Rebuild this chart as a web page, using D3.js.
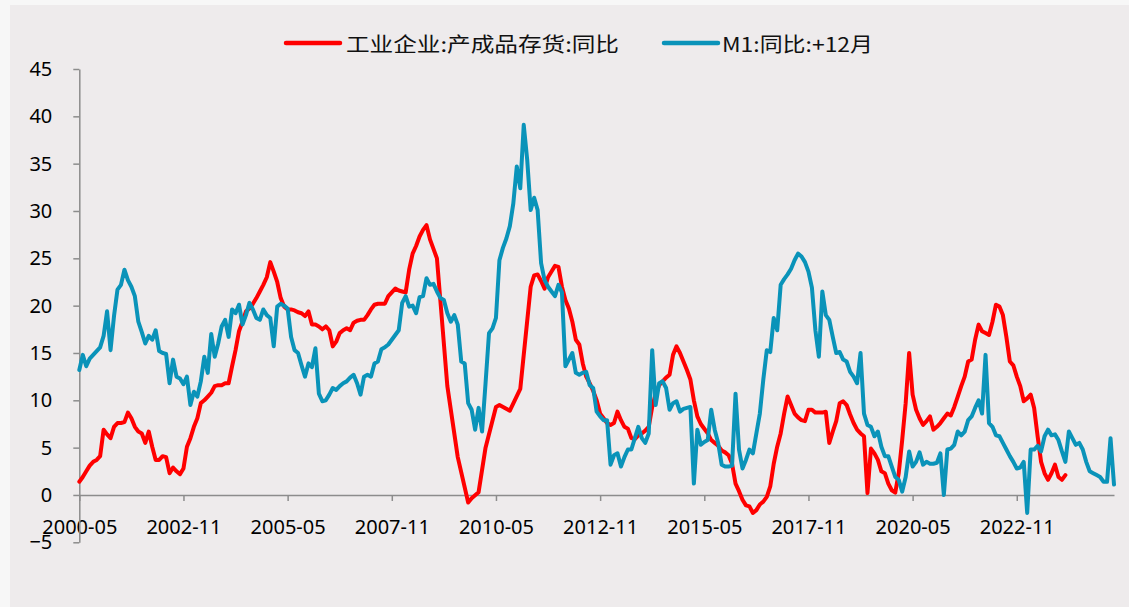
<!DOCTYPE html>
<html>
<head>
<meta charset="utf-8">
<script src="https://cdn.jsdelivr.net/npm/d3@7"></script>
<style>
  html, body { margin: 0; padding: 0; background: #f7f7f7; }
  svg { display: block; }
</style>
</head>
<body>
<div id="chart"></div>
<script>
// series names (legend)
const seriesNames = ["工业企业:产成品存货:同比", "M1:同比:+12月"];
const firstMonth = "2000-05";
const xTickLabels = ["2000-05", "2002-11", "2005-05", "2007-11", "2010-05",
  "2012-11", "2015-05", "2017-11", "2020-05", "2022-11"];
const yTicks = [-5, 0, 5, 10, 15, 20, 25, 30, 35, 40, 45];

// 工业企业:产成品存货:同比, monthly from 2000-05 (null = no value that month)
const inventoryYoY = [
  1.4, 1.9, 2.5, 3.1, 3.5, 3.7, 4.1, 6.9, 6.4, 6.0,
  7.2, 7.6, 7.6, 7.7, 8.7, 8.1, 7.2, 6.7, 6.5, 5.5,
  6.7, 5.1, 3.7, 3.7, 4.1, 4.0, 2.3, 2.9, 2.5, 2.2,
  2.8, 5.1, 6.0, 7.2, 8.1, 9.7, 10.0, 10.4, 10.8, 11.5,
  11.6, 11.6, 11.8, 11.8, 13.6, 15.3, 17.3, 18.3, 19.4, 19.7,
  20.2, 20.8, 21.5, 22.2, 23.0, 24.6, 23.6, 22.5, 20.8, 19.9,
  19.6, 19.6, 19.5, 19.3, 19.2, 18.9, 19.4, 18.0, 18.0, 17.8,
  17.5, 17.8, 17.4, 15.7, 16.2, 17.1, 17.4, 17.6, 17.4, 18.2,
  18.4, 18.5, 18.5, 19.0, 19.6, 20.1, 20.2, 20.2, 20.2, 21.0,
  21.4, 21.8, 21.6, 21.5, 21.4, 23.8, 25.5, 26.3, 27.3, 28.0,
  28.5, 27.0, 26.0, 25.0, null, null, 11.5, null, null, 4.0,
  null, null, -0.8, -0.35, null, 0.3, null, 5.0, null, null,
  9.3, 9.5, null, null, 8.9, null, null, 11.2, null, null,
  22.0, 23.2, 23.3, 22.6, 21.8, 23.0, 23.6, 24.2, 24.1, 22.0,
  20.6, 19.7, 18.3, 16.4, 15.9, 13.9, 12.5, 11.8, 11.0, 10.0,
  8.6, 8.1, 7.6, 7.4, 7.6, 8.8, 7.9, 7.2, 7.0, 6.0,
  5.9, 6.3, 6.5, 6.8, 7.2, 9.3, 10.7, 11.6, 12.0, 12.4,
  12.7, 14.8, 15.7, 15.0, 14.1, 13.2, 12.2, 10.0, 8.3, 7.5,
  7.0, 6.5, 5.8, 5.5, 5.2, 4.7, 4.5, 4.2, 3.3, 1.2,
  0.4, -0.5, -1.1, -1.2, -1.9, -1.6, -1.0, -0.7, -0.2, 0.9,
  3.3, 5.1, 6.5, 8.6, 10.4, 9.5, 8.6, 8.2, 7.9, 7.8,
  9.0, 9.0, 8.7, 8.7, 8.7, 8.8, 5.5, 6.7, 7.8, 9.7,
  9.9, 9.5, 8.5, 7.6, 6.9, 6.5, 6.2, 0.2, 4.9, 4.4,
  3.7, 2.5, 2.3, 1.2, 0.5, 0.25, 2.3, 5.8, 9.7, 15.0,
  10.6, 9.0, 8.1, 7.4, 7.8, 8.3, 6.9, 7.2, 7.6, 8.1,
  8.6, 8.4, 9.3, 10.4, 11.5, 12.5, 14.1, 14.3, 16.4, 18.0,
  17.3, 17.1, 16.9, 18.3, 20.1, 19.9, 19.0, 16.7, 14.1, 13.7,
  12.5, 11.5, 9.9, 10.2, 10.6, 9.2, 6.2, 3.5, 2.3, 1.6,
  2.3, 3.2, 1.9, 1.6, 2.1
];

// M1:同比, shifted +12 months, monthly from 2000-05
const m1YoYLead12 = [
  13.2, 14.8, 13.6, 14.4, 14.8, 15.2, 15.6, 16.8, 19.4, 15.3,
  18.9, 21.7, 22.2, 23.8, 22.7, 22.0, 21.0, 18.3, 17.2, 16.0,
  16.8, 16.4, 17.4, 15.2, 15.0, 14.9, 11.8, 14.3, 12.5, 12.3,
  11.7, 12.5, 9.5, 10.9, 10.4, 12.0, 14.6, 12.9, 17.0, 14.6,
  16.0, 17.8, 18.5, 16.7, 19.6, 19.2, 20.1, 18.0, 19.0, 20.3,
  19.6, 18.7, 18.5, 19.6, 19.0, 18.7, 15.7, 19.9, 20.2, 20.0,
  19.7, 16.7, 15.3, 15.0, 13.7, 12.5, 13.9, 13.5, 15.5, 10.7,
  9.9, 10.0, 10.6, 11.3, 11.1, 11.5, 11.8, 12.0, 12.4, 12.7,
  11.8, 10.6, 12.5, 12.7, 12.5, 13.9, 14.1, 15.4, 15.6, 15.9,
  16.4, 16.9, 17.4, 20.3, 21.0, 19.9, 20.0, 19.2, 20.9, 21.0,
  22.9, 22.2, 22.3, 21.5, 20.8, 20.6, 19.2, 18.3, 19.0, 18.0,
  14.1, 13.9, 9.7, 9.0, 6.9, 9.2, 6.7, 11.8, 17.1, 17.6,
  18.7, 24.8, 26.1, 27.1, 28.4, 30.8, 34.7, 32.4, 39.1, 35.4,
  30.1, 31.4, 30.1, 24.5, 22.7, 22.0, 21.5, 21.0, 22.2, 21.4,
  13.6, 14.3, 15.0, 12.9, 12.7, 12.9, 13.0, 11.6, 11.3, 8.8,
  8.3, 7.9, 7.9, 3.2, 4.2, 4.4, 3.0, 4.0, 4.8, 4.8,
  6.0, 7.2, 6.0, 5.5, 6.5, 15.3, 9.5, 11.8, 12.0, 11.3,
  9.0, 9.7, 9.9, 8.8, 9.1, 9.2, 9.3, 1.2, 6.9, 5.3,
  5.6, 5.8, 9.0, 6.9, 5.5, 3.2, 3.0, 3.0, 3.1, 10.7,
  4.8, 2.8, 3.7, 4.8, 4.4, 6.5, 8.6, 12.2, 15.3, 15.1,
  18.7, 17.4, 22.2, 22.8, 23.3, 23.9, 24.8, 25.5, 25.2, 24.6,
  23.6, 21.9, 17.4, 14.6, 21.5, 19.0, 18.5, 16.7, 15.0, 15.1,
  14.3, 14.1, 13.0, 12.5, 11.8, 15.0, 8.6, 7.4, 7.2, 6.2,
  6.7, 5.1, 4.1, 4.1, 3.0, 1.9, 1.6, 0.35, 1.9, 4.6,
  3.0, 3.5, 4.5, 3.2, 3.5, 3.3, 3.3, 3.4, 4.4, 0.0,
  4.8, 4.9, 5.3, 6.7, 6.3, 6.7, 7.9, 8.3, 9.2, 10.0,
  8.6, 14.8, 7.6, 7.2, 6.3, 6.2, 5.5, 4.8, 4.1, 3.5,
  2.8, 2.9, 3.5, -1.9, 4.8, 4.8, 5.2, 4.6, 6.2, 6.9,
  6.3, 6.4, 5.8, 4.6, 3.5, 6.7, 6.0, 5.3, 5.5, 4.8,
  3.5, 2.5, 2.3, 2.1, 1.9, 1.4, 1.4, 6.0, 1.1
];

const colors = ["#ff0000", "#0a93b9"];
const width = 1129, height = 607;

const parseMonth = d3.timeParse("%Y-%m");
const fmtMonth = d3.timeFormat("%Y-%m");
const start = parseMonth(firstMonth);
const months = d3.range(m1YoYLead12.length).map(i => fmtMonth(d3.timeMonth.offset(start, i)));

const svg = d3.select("#chart").append("svg")
  .attr("width", width).attr("height", height);

// chart area background
svg.append("rect")
  .attr("x", 10).attr("y", 5)
  .attr("width", width - 10).attr("height", height - 5)
  .attr("fill", "#eeebec");

const x = d3.scalePoint().domain(months).range([79.3, 1114]);
const y = d3.scaleLinear().domain([-5, 45]).range([542.3, 69]);

const axisColor = "#8c8c8c";
const labelFont = "'Noto Sans', 'DejaVu Sans', sans-serif";

// x axis sits on the zero line
const gx = svg.append("g")
  .attr("transform", `translate(0,${y(0)})`)
  .call(d3.axisBottom(x).tickValues(xTickLabels).tickSize(6).tickSizeOuter(0).tickPadding(19));

const gy = svg.append("g")
  .attr("transform", `translate(${x(months[0])},0)`)
  .call(d3.axisLeft(y).tickValues(yTicks).tickSize(6).tickSizeOuter(0).tickPadding(21));

[gx, gy].forEach(g => {
  g.select(".domain").attr("stroke", axisColor).attr("stroke-width", 1.5);
  g.selectAll(".tick line").attr("stroke", axisColor).attr("stroke-width", 1.5);
  g.selectAll(".tick text")
    .attr("fill", "#000")
    .style("font-family", labelFont)
    .style("font-size", "20px");
});

// lines
const line = d3.line()
  .x(d => x(d.month))
  .y(d => y(d.value));

const toPoints = arr => arr
  .map((v, i) => ({ month: months[i], value: v }))
  .filter(d => d.value !== null);

[inventoryYoY, m1YoYLead12].forEach((arr, i) => {
  svg.append("path")
    .datum(toPoints(arr))
    .attr("fill", "none")
    .attr("stroke", colors[i])
    .attr("stroke-width", 4)
    .attr("stroke-linejoin", "round")
    .attr("stroke-linecap", "round")
    .attr("d", line);
});

// legend
const legendItems = [
  { x0: 286, x1: 340, tx: 346, tw: 273 },
  { x0: 664, x1: 718, tx: 722, tw: 151 }
];
const legend = svg.append("g");
legendItems.forEach((it, i) => {
  legend.append("line")
    .attr("x1", it.x0).attr("x2", it.x1)
    .attr("y1", 43).attr("y2", 43)
    .attr("stroke", colors[i])
    .attr("stroke-width", 4.5)
    .attr("stroke-linecap", "round");
  legend.append("text")
    .attr("x", it.tx).attr("y", 43)
    .attr("dominant-baseline", "central")
    .attr("textLength", it.tw)
    .attr("lengthAdjust", "spacingAndGlyphs")
    .style("font-family", "'Noto Sans CJK SC', 'Noto Sans', sans-serif")
    .style("font-size", "20px")
    .attr("fill", "#111")
    .text(seriesNames[i]);
});
</script>
</body>
</html>
